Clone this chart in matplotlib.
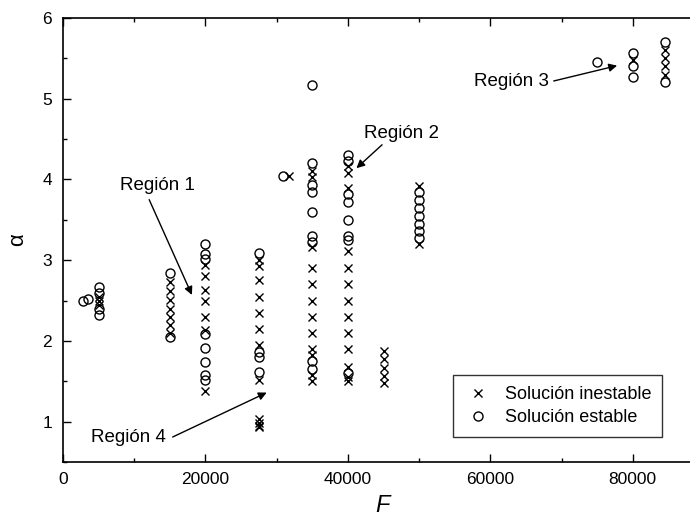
import numpy as np
import matplotlib.pyplot as plt
from matplotlib.ticker import MultipleLocator

plt.rcParams['font.family'] = ['Liberation Sans', 'DejaVu Sans']
plt.rcParams['mathtext.fontset'] = 'custom'
plt.rcParams['mathtext.it'] = 'Liberation Sans:italic'

# Solución inestable (x) : one F value per column, alpha values
unst_F = [5000, 15000, 20000, 27500, 31800, 35000, 40000, 45000, 50000, 80000, 84500]
unst_a = [
    [2.45, 2.50, 2.55],
    [2.73, 2.62, 2.51, 2.40, 2.30, 2.20, 2.10],
    [2.94, 2.80, 2.63, 2.49, 2.30, 2.14, 1.38],
    [3.00, 2.93, 2.75, 2.55, 2.35, 2.15, 1.95, 1.52, 1.03, 0.98, 0.95, 0.93],
    [4.04],
    [4.10, 4.03, 3.16, 2.90, 2.70, 2.50, 2.30, 2.10, 1.90, 1.82, 1.58, 1.50],
    [4.17, 4.08, 3.90, 3.12, 2.90, 2.70, 2.50, 2.30, 2.10, 1.90, 1.68, 1.55, 1.50],
    [1.88, 1.77, 1.66, 1.57, 1.48],
    [3.92, 3.20],
    [5.48],
    [5.60, 5.50, 5.40, 5.30],
]

# Solución estable (o)
stab_F = [2850, 3550, 5000, 15000, 20000, 27500, 30900, 35000, 40000, 50000, 75000, 80000, 84500]
stab_a = [
    [2.49],
    [2.52],
    [2.67, 2.59, 2.40, 2.32],
    [2.84, 2.05],
    [3.20, 3.08, 3.02, 2.08, 1.91, 1.74, 1.58, 1.51],
    [3.09, 1.86, 1.80, 1.62],
    [4.04],
    [5.17, 4.20, 3.93, 3.84, 3.60, 3.30, 3.22, 1.75, 1.65],
    [4.30, 4.23, 3.82, 3.72, 3.50, 3.30, 3.25, 1.60],
    [3.84, 3.75, 3.65, 3.55, 3.45, 3.36, 3.27],
    [5.45],
    [5.57, 5.40, 5.27],
    [5.70, 5.21],
]

# annotations: label, text position (F, alpha), arrow start, arrow tip
labels = ['Región 1', 'Región 2', 'Región 3', 'Región 4']
text_pos = [(13300, 3.93), (47500, 4.57), (63000, 5.21), (9200, 0.80)]
arrow_start = [(12100, 3.75), (44800, 4.43), (68900, 5.22), (15400, 0.81)]
arrow_tip = [(18100, 2.57), (41200, 4.14), (77800, 5.41), (28600, 1.36)]

ux = np.concatenate([np.full(len(a), f) for f, a in zip(unst_F, unst_a)])
uy = np.concatenate(unst_a)
sx = np.concatenate([np.full(len(a), f) for f, a in zip(stab_F, stab_a)])
sy = np.concatenate(stab_a)

fig = plt.figure(figsize=(6.9, 5.27), dpi=100)
ax = fig.add_axes([0.0913, 0.1233, 0.929, 0.8425])

ax.plot(ux, uy, 'x', color='black', ms=5.5, mew=1.0, label='Solución inestable')
ax.plot(sx, sy, 'o', mfc='none', mec='black', ms=6.5, mew=1.0, label='Solución estable')

for lab, tp, st, tip in zip(labels, text_pos, arrow_start, arrow_tip):
    ax.text(tp[0], tp[1], lab, ha='center', va='center', fontsize=13.5)
    ax.annotate('', xy=tip, xytext=st,
                arrowprops=dict(arrowstyle='-|>', color='black', lw=1.0,
                                mutation_scale=12, shrinkA=0, shrinkB=0))

ax.set_xlim(0, 90000)
ax.set_ylim(0.5, 6)
ax.xaxis.set_major_locator(MultipleLocator(20000))
ax.xaxis.set_minor_locator(MultipleLocator(10000))
ax.yaxis.set_major_locator(MultipleLocator(1))
ax.yaxis.set_minor_locator(MultipleLocator(0.5))
ax.tick_params(which='both', direction='in', top=True, right=True, labelsize=12.5, width=1.0)
ax.tick_params(which='major', length=6)
ax.tick_params(which='minor', length=3)
ax.tick_params(axis='x', pad=7)
ax.tick_params(axis='y', pad=8)
for s in ax.spines.values():
    s.set_linewidth(1.2)

ax.set_xlabel('$F$', fontsize=17, labelpad=6)
ax.set_ylabel('α', fontsize=16, labelpad=10)

leg = ax.legend(loc='lower left', bbox_to_anchor=(0.608, 0.056), fontsize=13,
                frameon=True, fancybox=False, edgecolor='black', borderaxespad=0,
                handletextpad=0.7, borderpad=0.6, labelspacing=0.35, handlelength=1.6)
leg.get_frame().set_linewidth(1.0)

fig.savefig('out.png', dpi=100)
